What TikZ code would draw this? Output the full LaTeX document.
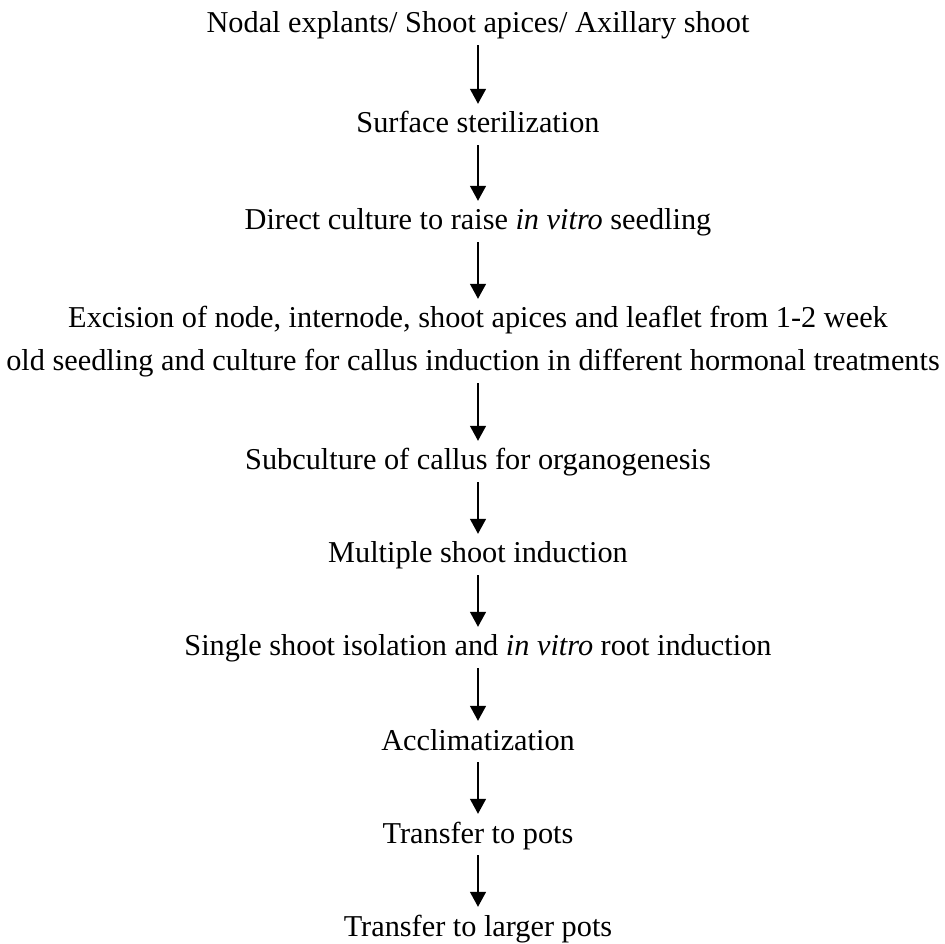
\documentclass[tikz,border=0pt]{standalone}
\usepackage{fontspec}
\setmainfont{Liberation Serif}
\usetikzlibrary{arrows.meta}
\tikzset{
  lbl/.style={anchor=base, inner sep=0pt, text height=29pt, text depth=12pt, font=\fontsize{30.3pt}{38pt}\selectfont},
  arr/.style={line width=1.4pt, -{Triangle[width=16pt,length=15pt]}}
}
\begin{document}
\begin{tikzpicture}[x=1pt,y=1pt]
\useasboundingbox (0,0) rectangle (945,943);
\node[lbl] (n1) at (478,{943-33}) {Nodal explants/ Shoot apices/ Axillary shoot};
\node[lbl] (n2) at (478,{943-133}) {Surface sterilization};
\node[lbl] (n3) at (478,{943-230}) {Direct culture to raise \textit{in vitro} seedling};
\node[lbl] (n4a) at (478,{943-328}) {Excision of node, internode, shoot apices and leaflet from 1-2 week};
\node[lbl] (n4b) at (473,{943-371}) {old seedling and culture for callus induction in different hormonal treatments};
\node[lbl] (n5) at (478,{943-470}) {Subculture of callus for organogenesis};
\node[lbl] (n6) at (478,{943-563}) {Multiple shoot induction};
\node[lbl] (n7) at (478,{943-656}) {Single shoot isolation and \textit{in vitro} root induction};
\node[lbl] (n8) at (478,{943-750}) {Acclimatization};
\node[lbl] (n9) at (478,{943-843}) {Transfer to pots};
\node[lbl] (n10) at (478,{943-936}) {Transfer to larger pots};
\draw[arr] (n1.south) -- (n2.north);
\draw[arr] (n2.south) -- (n3.north);
\draw[arr] (n3.south) -- (n4a.north);
\draw[arr] (n4b.south -| n5.south) -- (n5.north);
\draw[arr] (n5.south) -- (n6.north);
\draw[arr] (n6.south) -- (n7.north);
\draw[arr] (n7.south) -- (n8.north);
\draw[arr] (n8.south) -- (n9.north);
\draw[arr] (n9.south) -- (n10.north);
\end{tikzpicture}
\end{document}
